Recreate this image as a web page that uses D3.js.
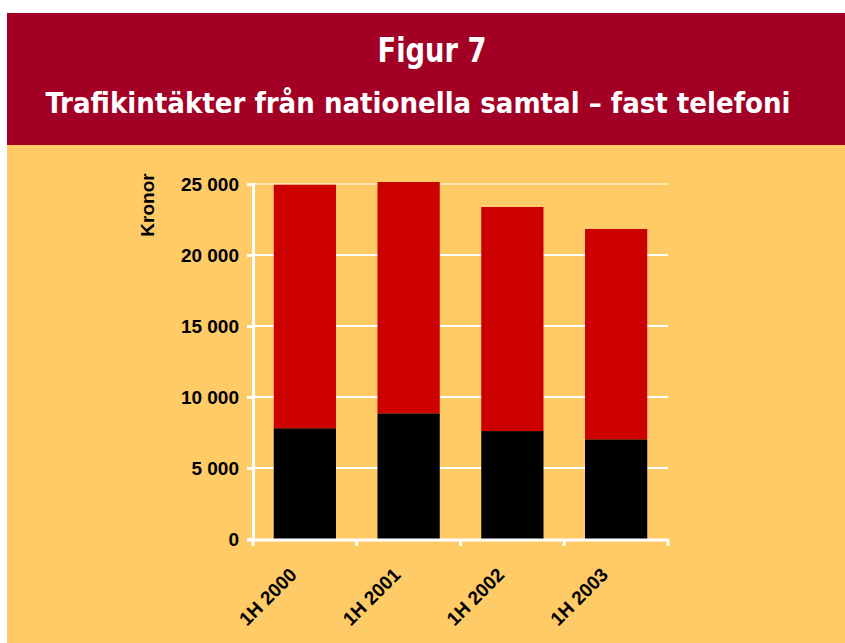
<!DOCTYPE html>
<html>
<head>
<meta charset="utf-8">
<script src="https://cdn.jsdelivr.net/npm/d3@7"></script>
<style>
body{margin:0;background:#fff;}
svg{display:block;}
.tick text{font-family:"Liberation Sans",Arial,sans-serif;font-weight:bold;font-size:19px;fill:#000;}
</style>
</head>
<body>
<svg id="chart"></svg>
<script>
var periods = ['1H 2000','1H 2001','1H 2002','1H 2003']
var blackVals = [7800, 8850, 7600, 7020]
var redVals = [17150, 16290, 15780, 14810]
var yTicks = [0,5000,10000,15000,20000,25000]

var screen = {width:845, height:643}
var margins = {top:184, bottom:104, left:253, right:177}
var width = screen.width - margins.left - margins.right
var height = screen.height - margins.top - margins.bottom

var svg = d3.select('#chart')
  .attr('width',screen.width)
  .attr('height',screen.height)

// backgrounds
svg.append('rect').attr('x',7).attr('y',145).attr('width',838).attr('height',498).attr('fill','#FECB67')
svg.append('rect').attr('x',7).attr('y',13).attr('width',838).attr('height',132).attr('fill','#A30026')

svg.append('text')
  .attr('x',432).attr('y',62)
  .attr('text-anchor','middle')
  .attr('font-family','"DejaVu Sans Condensed","DejaVu Sans",sans-serif')
  .attr('font-stretch','condensed')
  .attr('font-weight','bold')
  .attr('font-size','34px')
  .attr('textLength',109)
  .attr('lengthAdjust','spacingAndGlyphs')
  .attr('fill','#fff')
  .text('Figur 7')

svg.append('text')
  .attr('x',418).attr('y',113)
  .attr('text-anchor','middle')
  .attr('font-family','"DejaVu Sans Condensed","DejaVu Sans",sans-serif')
  .attr('font-stretch','condensed')
  .attr('font-weight','bold')
  .attr('font-size','28px')
  .attr('textLength',745)
  .attr('lengthAdjust','spacingAndGlyphs')
  .attr('fill','#fff')
  .text('Trafikintäkter från nationella samtal – fast telefoni')

var xScale = d3.scaleBand()
  .domain(periods)
  .range([0,width])
  .paddingInner(0.4)
  .paddingOuter(0.2)

var yScale = d3.scaleLinear()
  .domain([0,25000])
  .range([height,0])

var plot = svg.append('g')
  .attr('transform','translate('+margins.left+','+margins.top+')')

// gridlines
plot.selectAll('.grid')
  .data(yTicks.slice(1))
  .enter()
  .append('line')
  .attr('x1',0).attr('x2',width)
  .attr('y1',function(d){return yScale(d)})
  .attr('y2',function(d){return yScale(d)})
  .attr('stroke',function(d){return d==25000 ? '#FFE3AE' : '#fff'})
  .attr('stroke-width',2)

// bars
plot.selectAll('.blk')
  .data(blackVals)
  .enter()
  .append('rect')
  .attr('x',function(d,i){return xScale(periods[i])})
  .attr('y',function(d){return yScale(d)})
  .attr('width',xScale.bandwidth())
  .attr('height',function(d){return height - yScale(d)})
  .attr('fill','#000')

plot.selectAll('.red')
  .data(redVals)
  .enter()
  .append('rect')
  .attr('x',function(d,i){return xScale(periods[i])})
  .attr('y',function(d,i){return yScale(d+blackVals[i])})
  .attr('width',xScale.bandwidth())
  .attr('height',function(d){return height - yScale(d)})
  .attr('fill','#CC0000')

// y axis
var yAxis = plot.append('g')
  .call(d3.axisLeft(yScale).tickValues(yTicks).tickSize(6).tickPadding(8)
    .tickFormat(function(d){return d3.format(',')(d).replace(',',' ')}))
yAxis.select('.domain').attr('stroke','#fff').attr('stroke-width',3)
yAxis.selectAll('.tick line').attr('stroke','#fff').attr('stroke-width',3)

// x axis, ticks at band edges
var xAxis = plot.append('g').attr('transform','translate(0,'+height+')')
xAxis.append('line').attr('x1',-6).attr('x2',width).attr('y1',1).attr('y2',1)
  .attr('stroke','#fff').attr('stroke-width',3)
var edges = d3.range(periods.length+1).map(function(i){return i*xScale.step()})
xAxis.selectAll('.xt').data(edges).enter().append('line')
  .attr('x1',function(d){return d}).attr('x2',function(d){return d})
  .attr('y1',0).attr('y2',7)
  .attr('stroke','#fff').attr('stroke-width',3)

xAxis.selectAll('.xl').data(periods).enter().append('text')
  .attr('transform',function(d){return 'translate('+(xScale(d)+xScale.bandwidth()/2-7)+',37) rotate(-45)'})
  .attr('text-anchor','end')
  .attr('font-family','"Liberation Sans",Arial,sans-serif')
  .attr('font-weight','bold')
  .attr('font-size','19px')
  .attr('fill','#000')
  .text(function(d){return d})

svg.append('text')
  .attr('transform','translate(154,205) rotate(-90)')
  .attr('text-anchor','middle')
  .attr('font-family','"Liberation Sans",Arial,sans-serif')
  .attr('font-weight','bold')
  .attr('font-size','19px')
  .attr('fill','#000')
  .text('Kronor')
</script>
</body>
</html>
